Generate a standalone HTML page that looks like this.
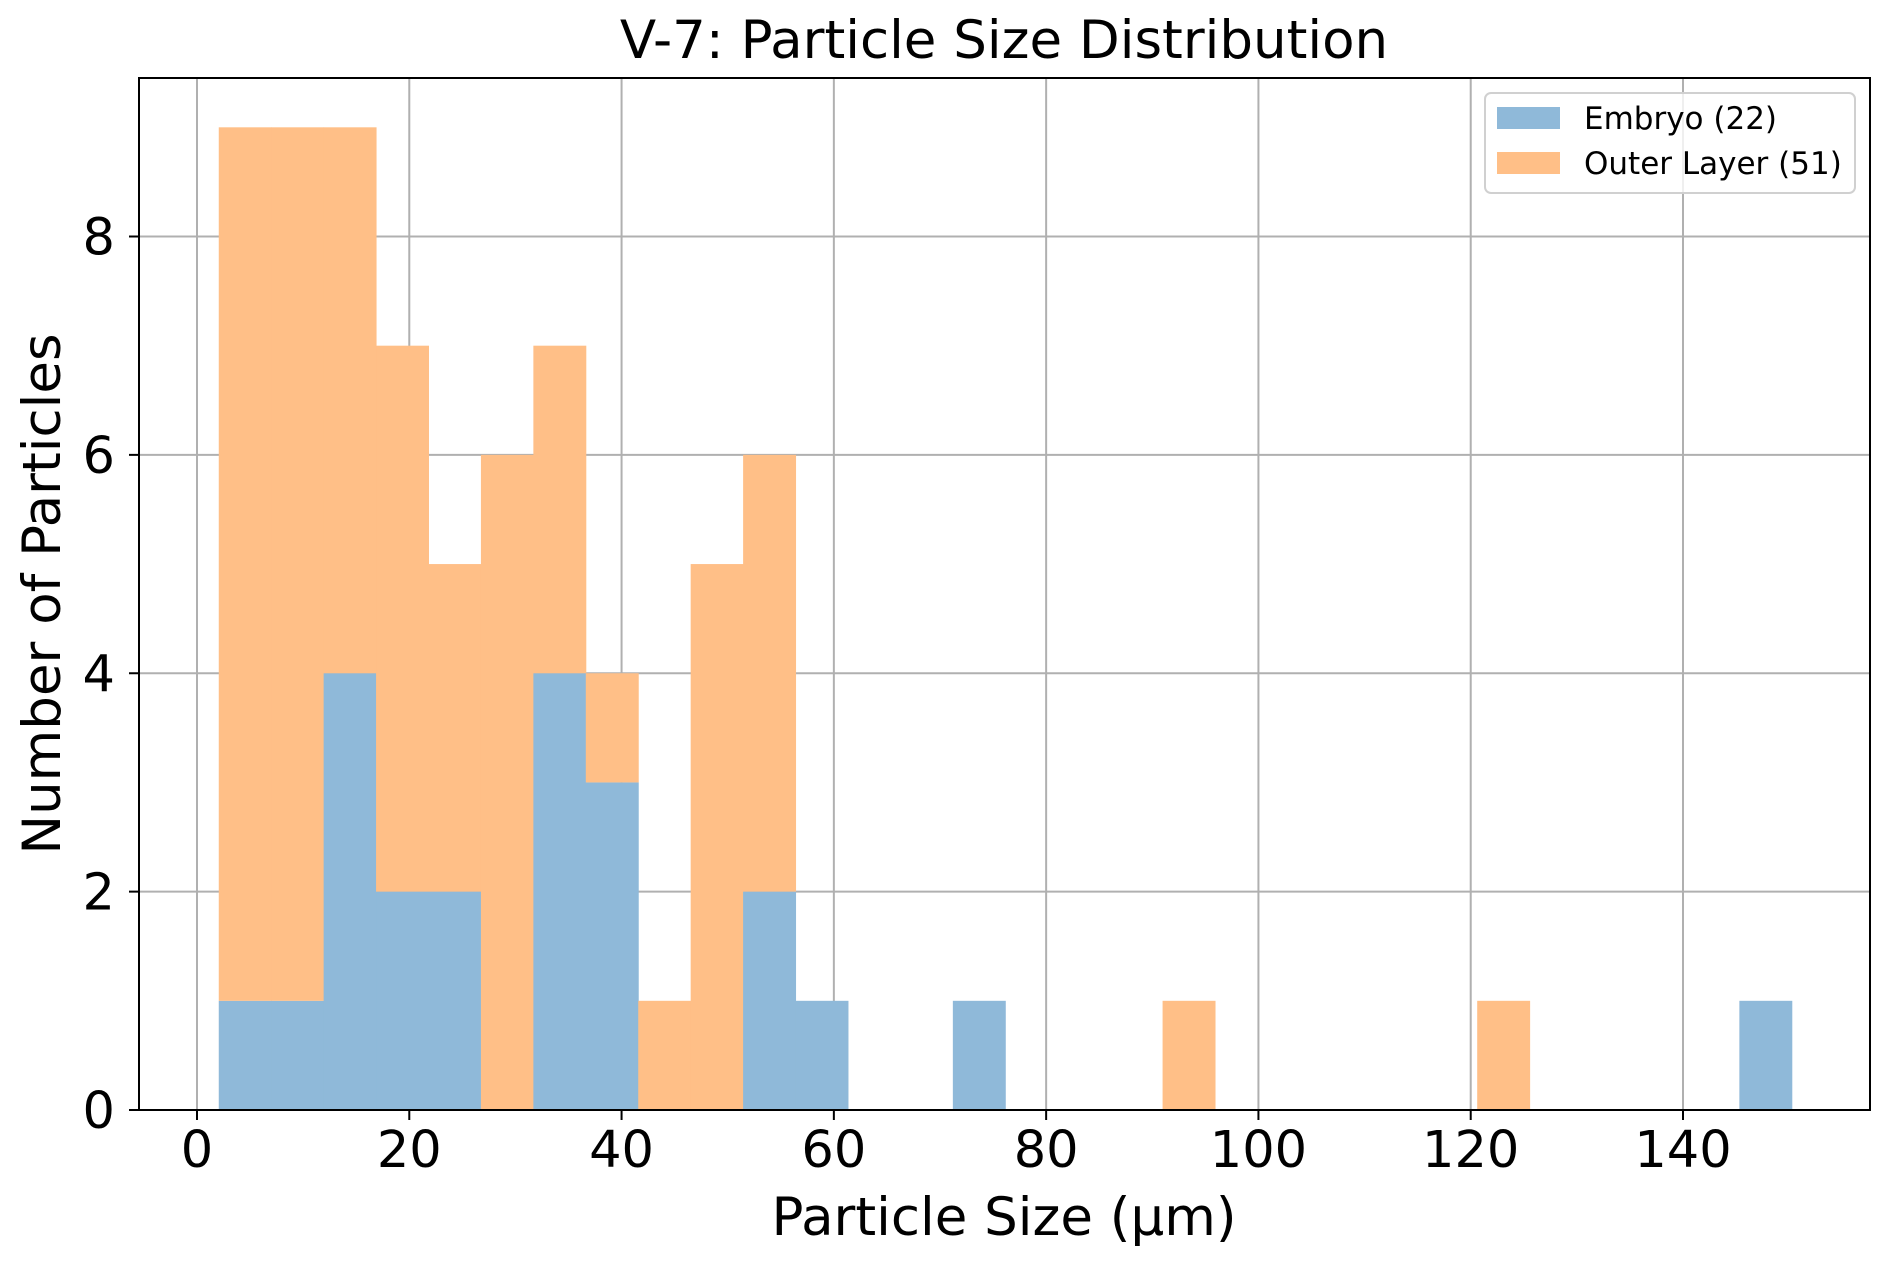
<!DOCTYPE html>
<html><head><meta charset="utf-8"><style>
body{margin:0;background:#fff}
svg{display:block;font-family:"DejaVu Sans","Liberation Sans",sans-serif}
</style></head><body>
<svg id="chart" width="1892" height="1266" viewBox="0 0 1892 1266"></svg>
<script>
const binStart = 2.05;
const binWidth = 4.94;
const embryoCounts = [1,1,4,2,2,0,4,3,0,0,2,1,0,0,1,0,0,0,0,0,0,0,0,0,0,0,0,0,0,1];
const outerCounts  = [8,8,5,5,3,6,3,1,1,5,4,0,0,0,0,0,0,0,1,0,0,0,0,0,1,0,0,0,0,0];
const xTicks = [0,20,40,60,80,100,120,140];
const yTicks = [0,2,4,6,8];
const legendLabels = ["Embryo (22)","Outer Layer (51)"];

const L=139,R=1870,T=78,B=1110;
const sx=v=>197+(v)*(1683-197)/140;
const sy=v=>B-v*(B-236.5)/8;
const svg=document.getElementById('chart');
const NS='http://www.w3.org/2000/svg';
function mk(tag,attrs,text){const e=document.createElementNS(NS,tag);for(const k in attrs)e.setAttribute(k,attrs[k]);if(text!==undefined)e.textContent=text;svg.appendChild(e);return e;}

mk('rect',{x:0,y:0,width:1892,height:1266,fill:'#fff'});
xTicks.forEach(t=>{const g=mk('line',{x1:sx(t),x2:sx(t),y1:T,y2:B,stroke:'#b0b0b0','stroke-width':2});

});
yTicks.forEach(t=>{const g=mk('line',{x1:L,x2:R,y1:sy(t),y2:sy(t),stroke:'#b0b0b0','stroke-width':2});

});
for(let i=0;i<embryoCounts.length;i++){
  const x0=sx(binStart+i*binWidth),x1=sx(binStart+(i+1)*binWidth);
  if(embryoCounts[i]>0){const r=mk('rect',{x:x0,y:sy(embryoCounts[i]),width:x1-x0+0.5,height:sy(0)-sy(embryoCounts[i]),fill:'#8fb9d9'});
  
  }
  if(outerCounts[i]>0){const top=embryoCounts[i]+outerCounts[i];const r=mk('rect',{x:x0,y:sy(top),width:x1-x0+0.5,height:sy(embryoCounts[i])-sy(top),fill:'#ffbf87'});
  
  }
}
const f=mk('rect',{x:L,y:T,width:R-L,height:B-T,fill:'none',stroke:'#000','stroke-width':2});


xTicks.forEach(t=>{mk('line',{x1:sx(t),x2:sx(t),y1:B,y2:B+10,stroke:'#000','stroke-width':2});
const l=mk('text',{x:sx(t),y:1167,'font-size':51,'text-anchor':'middle',fill:'#000'},String(t));

});
yTicks.forEach(t=>{mk('line',{x1:L-10,x2:L,y1:sy(t),y2:sy(t),stroke:'#000','stroke-width':2});
const l=mk('text',{x:115,y:sy(t)+18,'font-size':51,'text-anchor':'end',fill:'#000'},String(t));

});
const ti=mk('text',{x:1004,y:58,'font-size':53,'text-anchor':'middle'},'V-7: Particle Size Distribution');


const xl=mk('text',{x:1004,y:1235,'font-size':53,'text-anchor':'middle'},'Particle Size (µm)');


const yl=mk('text',{x:0,y:0,'font-size':53,'text-anchor':'middle',transform:'translate(60,594) rotate(-90)'},'Number of Particles');


const lb=mk('rect',{x:1485,y:93,width:370,height:100,rx:6,fill:'#fff','fill-opacity':0.8,stroke:'#d0d0d0','stroke-width':2});


const cols=['#8fb9d9','#ffbf87'];
legendLabels.forEach((s,i)=>{
  const p=mk('rect',{x:1497,y:107+i*45,width:63,height:22,fill:cols[i]});
  
  
  const t=mk('text',{x:1584,y:129+i*45,'font-size':31},s);
  
  
});
</script>
</body></html>
